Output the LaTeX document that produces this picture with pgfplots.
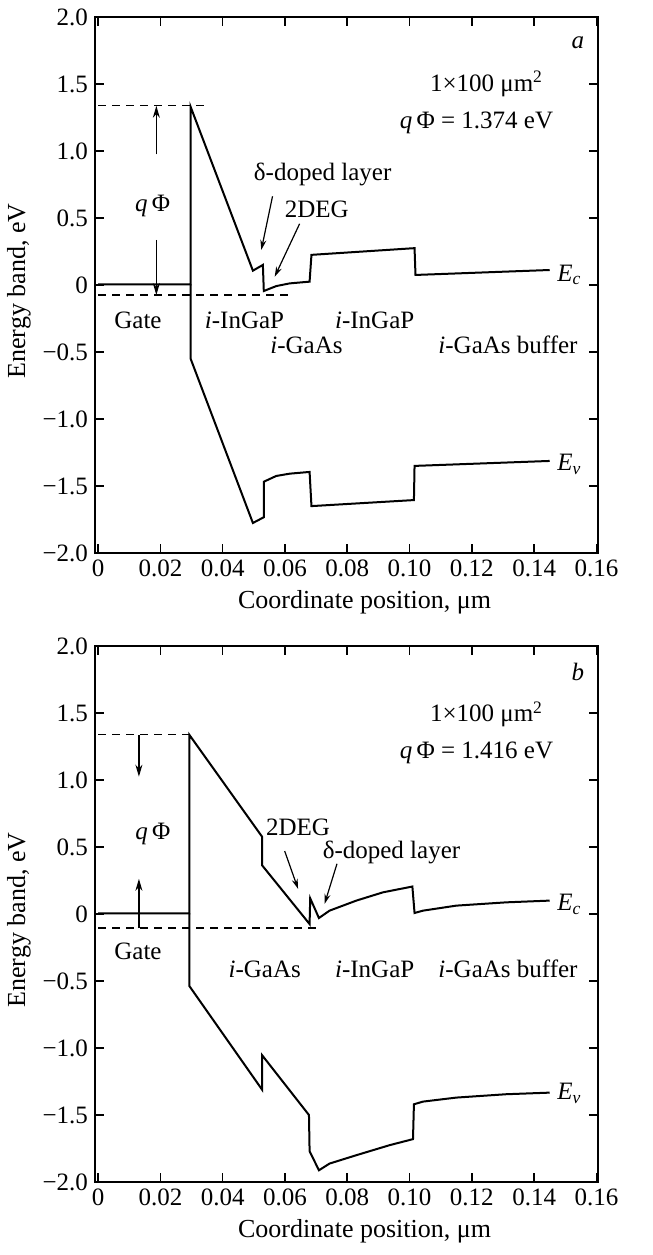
\documentclass[border=0pt]{standalone}
\usepackage{fontspec}
\setmainfont{Liberation Serif}
\usepackage{pgfplots}
\pgfplotsset{compat=1.18}
\usetikzlibrary{arrows.meta}

\newcommand{\ff}{\fontsize{12.5}{14}\selectfont}
\newcommand{\lf}{\fontsize{13}{15}\selectfont}
\newcommand{\qPhi}{\textit{q}\,Φ}

\pgfplotsset{
  bandaxis/.style={
    scale only axis,
    width=251.5pt, height=268pt,
    xmin=-0.001, xmax=0.1605, ymin=-2, ymax=2,
    axis line style={line width=1pt},
    tick align=inside,
    major tick length=4.5pt,
    every tick/.style={black, line width=0.8pt},
    xtick={0,0.02,0.04,0.06,0.08,0.10,0.12,0.14,0.16},
    xticklabels={0,0.02,0.04,0.06,0.08,0.10,0.12,0.14,0.16},
    ytick={-2,-1.5,-1,-0.5,0,0.5,1,1.5,2},
    yticklabels={−2.0,−1.5,−1.0,−0.5,0,0.5,1.0,1.5,2.0},
    tick label style={font=\ff},
    xlabel={\lf Coordinate position, μm},
    ylabel={\lf Energy band, eV},
    every axis x label/.style={at={(ticklabel cs:0.5)}, anchor=north, xshift=9pt},
    every axis y label/.style={at={(ticklabel cs:0.5)}, anchor=south, rotate=90, yshift=-1pt, xshift=-3pt},
    clip=false,
  },
  band/.style={black, line width=1pt, line join=miter},
  gap/.style={black, line width=0.6pt, dash pattern=on 4pt off 3pt},
}

\begin{document}
\begin{tikzpicture}[every node/.style={font=\ff}]

% panel a
\begin{axis}[bandaxis]
\addplot[band] coordinates {(0,0.005) (0.0297,0.005) (0.0297,1.33) (0.0497,0.107) (0.0529,0.15) (0.0532,-0.045) (0.0572,-0.008) (0.0615,0.012) (0.0679,0.025) (0.0685,0.225) (0.1016,0.275) (0.1019,0.075) (0.145,0.112)};
\addplot[band] coordinates {(0.0297,0.005) (0.0297,-0.55) (0.0497,-1.776) (0.0532,-1.733) (0.0532,-1.468) (0.0572,-1.425) (0.0615,-1.408) (0.0679,-1.395) (0.0685,-1.65) (0.1014,-1.605) (0.1016,-1.35) (0.145,-1.313)};
\addplot[gap] coordinates {(0,1.337) (0.035,1.337)};
\addplot[gap] coordinates {(0,-0.075) (0.061,-0.075)};
\draw[line width=0.6pt, -{Stealth[length=6pt,width=3.5pt]}] (axis cs:0.0187,0.975) -- (axis cs:0.0187,1.337);
\draw[line width=0.6pt, -{Stealth[length=6pt,width=3.5pt]}] (axis cs:0.0187,0.337) -- (axis cs:0.0187,-0.075);
\node at (axis cs:0.0175,0.587) {\qPhi};
\node at (axis cs:0.154,1.81) {\textit{a}};
\node at (axis cs:0.1247,1.5) {1×100 μm\textsuperscript{2}};
\node at (axis cs:0.1215,1.213) {\qPhi\ = 1.374 eV};
\node at (axis cs:0.0721,0.825) {δ-doped layer};
\node at (axis cs:0.0702,0.5625) {2DEG};
\draw[line width=0.6pt, -{Stealth[length=5pt,width=3pt]}] (axis cs:0.056,0.662) -- (axis cs:0.0524,0.262);
\draw[line width=0.6pt, -{Stealth[length=5pt,width=3pt]}] (axis cs:0.0647,0.457) -- (axis cs:0.0567,0.062);
\node at (axis cs:0.1513,0.075) {\textit{E\textsubscript{c}}};
\node at (axis cs:0.1513,-1.34) {\textit{E\textsubscript{v}}};
\node at (axis cs:0.0128,-0.2625) {Gate};
\node at (axis cs:0.047,-0.2625) {\textit{i}-InGaP};
\node at (axis cs:0.0888,-0.2625) {\textit{i}-InGaP};
\node at (axis cs:0.0669,-0.45) {\textit{i}-GaAs};
\node at (axis cs:0.1316,-0.45) {\textit{i}-GaAs buffer};
\end{axis}

% panel b
\begin{axis}[bandaxis, at={(0,-314.5pt)}]
\addplot[band] coordinates {(0,0.005) (0.0293,0.005) (0.0293,1.337) (0.0527,0.575) (0.0527,0.362) (0.0679,-0.075) (0.0681,0.117) (0.0709,-0.03) (0.0743,0.025) (0.0829,0.1) (0.0915,0.162) (0.1009,0.205) (0.1016,0.0075) (0.1043,0.025) (0.115,0.0625) (0.131,0.087) (0.145,0.1)};
\addplot[band] coordinates {(0.0293,0.005) (0.0293,-0.5375) (0.0527,-1.3125) (0.0527,-1.055) (0.0677,-1.5) (0.0679,-1.77) (0.0709,-1.9125) (0.0743,-1.8625) (0.0829,-1.8) (0.0936,-1.725) (0.1011,-1.68) (0.1014,-1.42) (0.1043,-1.4) (0.115,-1.37) (0.131,-1.345) (0.145,-1.333)};
\addplot[gap] coordinates {(0,1.337) (0.031,1.337)};
\addplot[gap] coordinates {(0,-0.105) (0.0711,-0.105)};
\draw[line width=0.6pt, -{Stealth[length=6pt,width=3.5pt]}] (axis cs:0.0131,1.337) -- (axis cs:0.0131,1.025);
\draw[line width=0.6pt, -{Stealth[length=6pt,width=3.5pt]}] (axis cs:0.0131,-0.105) -- (axis cs:0.0131,0.2625);
\node at (axis cs:0.0176,0.6) {\qPhi};
\node at (axis cs:0.154,1.81) {\textit{b}};
\node at (axis cs:0.1247,1.49) {1×100 μm\textsuperscript{2}};
\node at (axis cs:0.1215,1.2) {\qPhi\ = 1.416 eV};
\node at (axis cs:0.0642,0.65) {2DEG};
\node at (axis cs:0.0942,0.462) {δ-doped layer};
\draw[line width=0.6pt, -{Stealth[length=5pt,width=3pt]}] (axis cs:0.0599,0.47) -- (axis cs:0.0642,0.1875);
\draw[line width=0.6pt, -{Stealth[length=5pt,width=3pt]}] (axis cs:0.0767,0.375) -- (axis cs:0.0727,0.075);
\node at (axis cs:0.1513,0.07) {\textit{E\textsubscript{c}}};
\node at (axis cs:0.1513,-1.34) {\textit{E\textsubscript{v}}};
\node at (axis cs:0.0128,-0.275) {Gate};
\node at (axis cs:0.0535,-0.4125) {\textit{i}-GaAs};
\node at (axis cs:0.0888,-0.4125) {\textit{i}-InGaP};
\node at (axis cs:0.1316,-0.4125) {\textit{i}-GaAs buffer};
\end{axis}

\path (-47.5pt,276.5pt) (279pt,-351pt);
\end{tikzpicture}
\end{document}
